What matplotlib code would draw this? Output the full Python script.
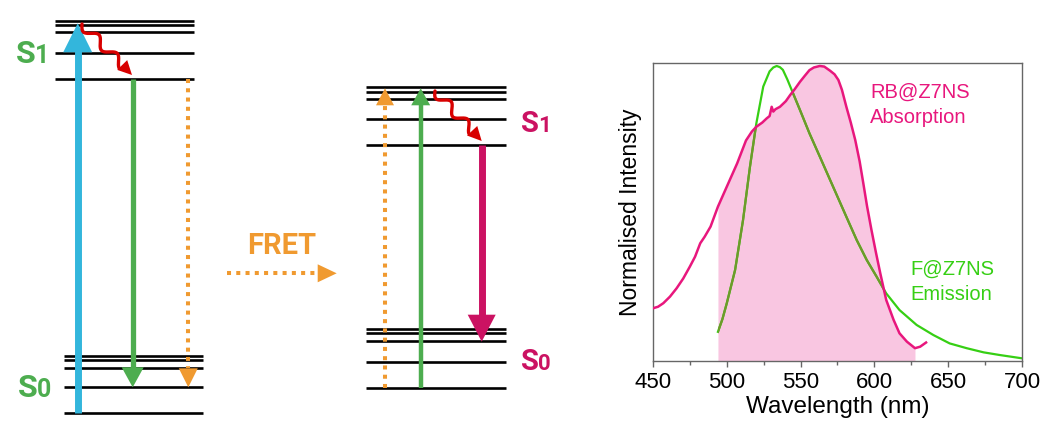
import numpy as np
import matplotlib
matplotlib.use("Agg")
import matplotlib.pyplot as plt
from matplotlib.patches import Polygon

# ---------------- data ----------------
# Spectra (wavelength nm, normalised intensity)
abs_wl = [450, 453.4, 457, 461.5, 466, 470.5, 475, 478.5, 482, 485, 489, 494, 500, 507,
          513, 517, 520, 524, 527, 529, 530.4, 531.5, 533, 536, 540, 543, 546, 549.6,
          553, 556, 559, 563, 566, 570, 573, 575.6, 578, 581, 584, 587, 590, 592.5,
          595, 598, 601, 604, 608, 613, 617, 622, 627.5, 631, 635]
abs_int = [0.177, 0.182, 0.194, 0.216, 0.244, 0.277, 0.317, 0.350, 0.395, 0.417, 0.451,
           0.518, 0.585, 0.663, 0.740, 0.770, 0.786, 0.800, 0.814, 0.822, 0.853, 0.837,
           0.845, 0.853, 0.872, 0.893, 0.912, 0.937, 0.958, 0.976, 0.985, 0.990, 0.988,
           0.974, 0.962, 0.943, 0.910, 0.853, 0.800, 0.742, 0.670, 0.596, 0.520, 0.440,
           0.365, 0.294, 0.205, 0.138, 0.093, 0.065, 0.043, 0.048, 0.062]
em_wl = [494, 497, 500, 505.6, 511, 515.7, 520, 524.7, 529, 531.5, 533.8, 536, 538, 541,
         544, 549.6, 556, 563, 572, 581, 588, 594.8, 601.5, 608, 617, 628.6, 640, 651,
         662.5, 674, 685, 700]
em_int = [0.098, 0.140, 0.194, 0.305, 0.473, 0.652, 0.797, 0.921, 0.972, 0.985, 0.990,
          0.986, 0.977, 0.945, 0.909, 0.842, 0.764, 0.686, 0.585, 0.484, 0.406, 0.339,
          0.283, 0.227, 0.171, 0.121, 0.087, 0.059, 0.043, 0.029, 0.020, 0.009]
overlap_range = [494, 627.5]
x_ticks = [450, 500, 550, 600, 650, 700]

# Jablonski diagram levels (pixel rows of the schematic)
donor_S1_levels = [20.7, 25, 32.3, 52.7, 79]
donor_S0_levels = [356, 360, 367.7, 387.3, 413.3]
acceptor_S1_levels = [86.7, 91.7, 99, 118.7, 144.7]
acceptor_S0_levels = [328.7, 333.3, 341, 361.7, 387.7]

C_BLUE = "#33B6DC"
C_GREEN = "#4DAD4F"
C_ORANGE = "#F09A30"
C_RED = "#D80000"
C_MAG = "#CB1262"
C_PLOT_MAG = "#E8177D"
C_PLOT_GREEN = "#36CF14"
C_PINK = "#F9C6E1"
C_OLIVE = "#6E9A2A"

fig = plt.figure(figsize=(10.41, 4.21), dpi=100)
d = fig.add_axes([0, 0, 1, 1])
d.set_xlim(0, 1041)
d.set_ylim(421, 0)
d.axis("off")

def levels(x0, x1, ys):
    for y in ys:
        d.plot([x0, x1], [y, y], color="black", lw=1.9, solid_capstyle="butt", zorder=2)

levels(55, 194, donor_S1_levels)
levels(64, 203, donor_S0_levels)
levels(366, 506, acceptor_S1_levels)
levels(366, 506, acceptor_S0_levels)

def varrow(x, y0, tip, lw, hw, hl, color, dotted=False):
    sgn = 1 if tip > y0 else -1
    base = tip - sgn * hl
    if dotted:
        d.plot([x, x], [y0, base], color=color, lw=lw, ls=(0, (1, 1.3)),
               dash_capstyle="butt", zorder=4)
    else:
        d.plot([x, x], [y0, base + sgn * 1], color=color, lw=lw,
               solid_capstyle="butt", zorder=4)
    d.add_patch(Polygon([[x - hw / 2, base], [x + hw / 2, base], [x, tip]],
                        closed=True, color=color, lw=0, zorder=5))

def harrow(y, x0, tip, lw, hh, hl, color):
    base = tip - hl
    d.plot([x0, base], [y, y], color=color, lw=lw, ls=(0, (1, 1.3)),
           dash_capstyle="butt", zorder=4)
    d.add_patch(Polygon([[base, y - hh / 2], [base, y + hh / 2], [tip, y]],
                        closed=True, color=color, lw=0, zorder=5))

def wavy(p0, p1, color, hl=14, hw=14, amp=4.6, waves=2.2):
    p0 = np.array(p0, float)
    p1 = np.array(p1, float)
    v = p1 - p0
    L = np.hypot(*v)
    u = v / L
    n = np.array([-u[1], u[0]])
    Lw = L - hl
    t = np.linspace(0, 1, 200)
    pts = p0[None, :] + (t * Lw)[:, None] * u[None, :] + \
        (amp * np.sin(2 * np.pi * waves * t))[:, None] * n[None, :]
    d.plot(pts[:, 0], pts[:, 1], color=color, lw=2.4, solid_capstyle="round", zorder=6)
    b = p0 + u * Lw
    d.add_patch(Polygon([b + n * hw / 2, b - n * hw / 2, p1], closed=True,
                        color=color, lw=0, zorder=6))

# donor
varrow(77.7, 413.3, 23.3, 5.0, 29, 29, C_BLUE)
varrow(132.7, 79, 387.3, 3.8, 22, 20, C_GREEN)
varrow(188.3, 79, 387.3, 2.9, 19, 19, C_ORANGE, dotted=True)
wavy((82, 24), (132, 75), C_RED)

# acceptor
varrow(385, 387.7, 88.3, 2.9, 18, 17, C_ORANGE, dotted=True)
varrow(420.7, 387.7, 88.3, 3.2, 19, 17, C_GREEN)
varrow(481.7, 144.7, 341.7, 5.0, 28, 27, C_MAG)
wavy((435, 91), (481.7, 141), C_RED)

# FRET
harrow(273.3, 226.7, 336.7, 2.9, 18, 19, C_ORANGE)
d.text(281.7, 254, "FRET", color=C_ORANGE, fontsize=21, fontweight="bold",
       family="Roboto", ha="center", va="baseline")

def slabel(x, y, sub, color, s_size=23, sub_size=18, off=19):
    d.text(x, y, "S", color=color, fontsize=s_size, fontweight="bold",
           family="Roboto", ha="left", va="baseline")
    d.text(x + off, y, sub, color=color, fontsize=sub_size, fontweight="bold",
           family="Roboto", ha="left", va="baseline")

slabel(16, 63, "1", C_GREEN)
slabel(18, 397, "0", C_GREEN)
slabel(521, 132, "1", C_MAG, s_size=21, sub_size=16, off=17)
slabel(521, 370, "0", C_MAG, s_size=21, sub_size=16, off=17)

# ---------------- spectra ----------------
W, H = 1041, 421
ax = fig.add_axes([653 / W, (H - 361) / H, 369 / W, 298 / H])
ax.patch.set_visible(False)
aw = np.array(abs_wl)
ai = np.array(abs_int)
ew = np.array(em_wl)
ei = np.array(em_int)
mask = (aw >= overlap_range[0]) & (aw <= overlap_range[1])
fill = ax.fill_between(aw[mask], 0, ai[mask], color=C_PINK, lw=0, zorder=1)
ax.plot(ew, ei, color=C_PLOT_GREEN, lw=1.6, zorder=2)
olive, = ax.plot(ew, ei, color=C_OLIVE, lw=1.6, zorder=3)
olive.set_clip_path(fill.get_paths()[0], transform=ax.transData)
ax.plot(aw, ai, color=C_PLOT_MAG, lw=1.8, zorder=4)

ax.set_xlim(450, 700)
ax.set_ylim(0, 1)
ax.set_xticks(x_ticks)
ax.set_xticks(np.arange(475, 700, 50), minor=True)
ax.set_yticks([])
for s in ax.spines.values():
    s.set_color("#666666")
    s.set_linewidth(1.0)
ax.tick_params(axis="x", which="major", length=4, width=1, color="#666666",
               labelsize=16, pad=4)
ax.tick_params(axis="x", which="minor", length=3, width=1, color="#666666")
for lab in ax.get_xticklabels():
    lab.set_family("Liberation Sans")
ax.set_xlabel("Wavelength (nm)", fontsize=17.5, family="Liberation Sans", labelpad=2)
ax.set_ylabel("Normalised Intensity", fontsize=16.5, family="Liberation Sans", labelpad=8)

fig.text(870 / W, 1 - 83 / H, "RB@Z7NS\nAbsorption", color=C_PLOT_MAG,
         fontsize=14.5, family="Liberation Sans", ha="left", va="top", linespacing=1.4,
         zorder=10)
fig.text(910.7 / W, 1 - 260 / H, "F@Z7NS\nEmission", color=C_PLOT_GREEN, fontsize=14.5,
         family="Liberation Sans", ha="left", va="top", linespacing=1.4, zorder=10)

fig.savefig("out.png", dpi=100)
